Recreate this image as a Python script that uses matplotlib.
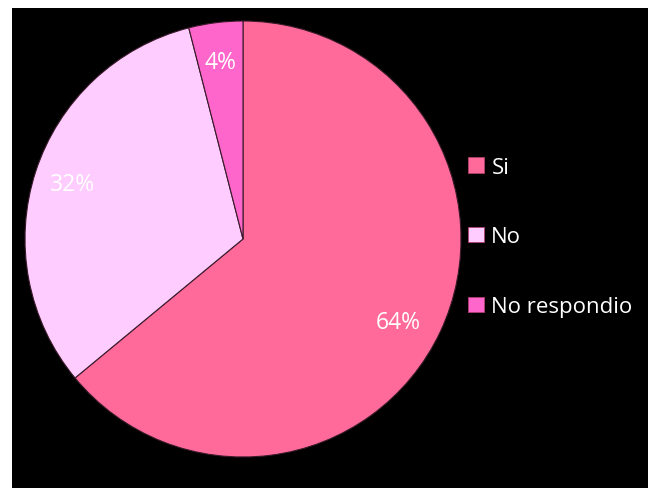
import matplotlib.pyplot as plt
from matplotlib.patches import Rectangle, Patch

# encuesta
categorias = ['Si', 'No', 'No respondio']
valores = [64, 32, 4]
colores = ['#FF6A9B', '#FFCCFF', '#FF66CC']

plt.rcParams['font.family'] = ['Open Sans', 'DejaVu Sans']

fig = plt.figure(figsize=(6.48, 4.89), dpi=100)
fig.patch.set_facecolor('white')

# fondo negro
fig.patches.append(Rectangle((12/648, 0), 1 - 12/648, 480/489,
                             transform=fig.transFigure, facecolor='black',
                             edgecolor='none', zorder=-5))

cx, cy, r = 243, 240, 218
ax = fig.add_axes([(cx - r)/648, (489 - cy - r)/489, 2*r/648, 2*r/489])
ax.set_facecolor('none')
ax.set_zorder(2)

wedges, textos, pcts = ax.pie(valores, colors=colores, startangle=90,
                              counterclock=False, autopct='%1.0f%%',
                              pctdistance=0.82, radius=1,
                              wedgeprops=dict(edgecolor='#3a1a2a', linewidth=0.8),
                              textprops=dict(color='white', fontsize=16.5))
# el 64% queda un poco mas abajo
x, y = pcts[0].get_position()
pcts[0].set_position((x - 0.03, y - 0.03))
ax.set_xlim(-1, 1)
ax.set_ylim(-1, 1)
ax.set_aspect('auto')
ax.axis('off')

handles = [Patch(facecolor=c, edgecolor='#b04070', linewidth=0.6) for c in colores]
leg = fig.legend(handles, categorias, loc='center left',
                 bbox_to_anchor=(468/648, 1 - 238/489), frameon=False,
                 fontsize=16, labelcolor='white', borderpad=0, borderaxespad=0,
                 labelspacing=2.2, handlelength=0.7, handleheight=0.7,
                 handletextpad=0.35)
leg.set_zorder(3)

fig.savefig('out.png', dpi=100)
